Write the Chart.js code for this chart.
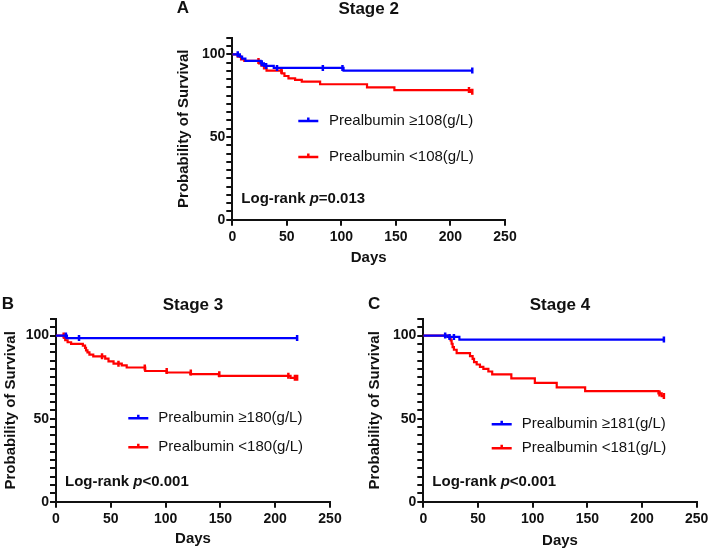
<!DOCTYPE html>
<html>
<head>
<meta charset="utf-8">
<script src="https://cdn.jsdelivr.net/npm/chart.js@4"></script>
<style>
  body { margin: 0; background: #fff; }
  #page { position: relative; width: 708px; height: 551px; overflow: hidden; }
  canvas { position: absolute; }
</style>
</head>
<body>
<div id="page">
  <canvas id="stage2" width="360" height="275" style="left:160px;top:0px"></canvas>
  <canvas id="stage3" width="350" height="266" style="left:0px;top:285px"></canvas>
  <canvas id="stage4" width="353" height="266" style="left:355px;top:285px"></canvas>
</div>
<script>
// Stage 2
const s2HighDays = [0, 7, 9, 12, 26, 29, 38, 102, 220];
const s2HighSurv = [100, 98.6, 97.4, 96.1, 94.6, 93.0, 91.8, 90.2, 90.2];
const s2HighCensorDays = [5, 27, 31, 41, 83, 101, 220];
const s2HighCensorSurv = [100, 94.6, 93.0, 91.8, 91.8, 91.8, 90.2];
const s2LowDays = [0, 5, 8, 11, 24.5, 26.7, 29, 31.4, 45.4, 47.8, 51.5, 57.6, 63.7, 80.5, 123.5, 148.6, 218, 220];
const s2LowSurv = [100, 98.6, 97, 96, 94.5, 93.1, 91.5, 90.1, 88.5, 86.9, 85.5, 84.5, 83.5, 81.9, 80, 78.4, 77.3, 77.3];
const s2LowCensorDays = [24, 45, 217, 220];
const s2LowCensorSurv = [96, 90.1, 78.4, 77.3];

// Stage 3
const s3HighDays = [0, 10, 220];
const s3HighSurv = [100, 98.5, 98.5];
const s3HighCensorDays = [9, 21, 220];
const s3HighCensorSurv = [100, 98.5, 98.5];
const s3LowDays = [0, 7.5, 8.4, 10.6, 13.8, 24.5, 26.5, 27.4, 28.7, 30.5, 34, 44.9, 47.9, 52.5, 60, 64.5, 81.4, 101, 122.6, 148.6, 214, 220];
const s3LowSurv = [100, 98.6, 97.2, 96, 95, 94, 92.6, 91.1, 89.9, 88.5, 87.5, 86.1, 84.5, 83.1, 82.1, 80.8, 78.7, 77.8, 76.8, 75.8, 74.6, 74.6];
const s3LowCensorDays = [7, 42, 57, 81, 101, 123, 149, 212, 218, 220];
const s3LowCensorSurv = [100, 87.5, 83.1, 80.8, 78.7, 77.8, 76.8, 75.8, 74.6, 74.6];

// Stage 4
const s4HighDays = [0, 22, 33, 220];
const s4HighSurv = [100, 99.2, 97.6, 97.6];
const s4HighCensorDays = [20, 24, 28, 220];
const s4HighCensorSurv = [100, 99.2, 99.2, 97.6];
const s4LowDays = [0, 23.8, 25, 25.9, 26.8, 28, 30.5, 42.7, 45.1, 46.4, 48.8, 51.8, 54.9, 59.5, 63, 80.5, 102, 122, 148, 215, 218, 220];
const s4LowSurv = [100, 98.8, 97.1, 95.1, 93.1, 91.5, 89.4, 87.7, 86, 84, 82.6, 81.2, 80, 78.4, 76.6, 74.3, 71.5, 68.8, 66.6, 65.2, 63.6, 63.6];
const s4LowCensorDays = [216, 220];
const s4LowCensorSurv = [65.2, 63.6];

const xTicks = [0, 50, 100, 150, 200, 250];
const yTickLabels = [0, 50, 100];

const BLUE = "rgb(0,0,255)";
const RED = "rgb(255,0,0)";
const FONT = '"Liberation Sans", Arial, sans-serif';

Chart.defaults.font.family = FONT;
Chart.defaults.color = "#111";

const toPoints = (xs, ys) => xs.map((x, i) => ({ x: x, y: ys[i] }));

// letters, titles, legend and the log-rank note
const panelText = {
  id: "panelText",
  afterDraw(chart, args, opts) {
    const { ctx, chartArea } = chart;
    ctx.save();
    ctx.fillStyle = "#111";
    ctx.textBaseline = "middle";

    ctx.font = "bold 17px " + FONT;
    ctx.textAlign = "left";
    ctx.fillText(opts.letter, opts.letterX, opts.titleY - 1);
    ctx.textAlign = "center";
    ctx.fillText(opts.title, (chartArea.left + chartArea.right) / 2, opts.titleY);

    // legend (curve datasets only)
    ctx.textAlign = "left";
    ctx.font = "15px " + FONT;
    let row = 0;
    chart.data.datasets.forEach((ds) => {
      if (!ds.isCurve) return;
      const y = opts.legendY[row++];
      const x1 = chartArea.left + opts.legendX;
      const x2 = x1 + 20;
      ctx.strokeStyle = ds.borderColor;
      ctx.lineWidth = 2.5;
      ctx.beginPath();
      ctx.moveTo(x1, y);
      ctx.lineTo(x2, y);
      ctx.moveTo((x1 + x2) / 2, y - 3.5);
      ctx.lineTo((x1 + x2) / 2, y + 1);
      ctx.stroke();
      ctx.fillText(ds.label, x1 + opts.legendTextGap, y);
    });

    // Log-rank p text
    let x = chartArea.left + 9;
    const y = opts.logY;
    ctx.font = "bold 15px " + FONT;
    ctx.fillText("Log-rank ", x, y);
    x += ctx.measureText("Log-rank ").width;
    ctx.font = "italic bold 15px " + FONT;
    ctx.fillText("p", x, y);
    x += ctx.measureText("p").width;
    ctx.font = "bold 15px " + FONT;
    ctx.fillText(opts.pText, x, y);
    ctx.restore();
  }
};

function makePanel(id, p) {
  const curve = (label, xs, ys, color) => ({
    label: label,
    isCurve: true,
    data: toPoints(xs, ys),
    borderColor: color,
    backgroundColor: color,
    borderWidth: 2.2,
    stepped: true,
    pointRadius: 0,
    fill: false
  });
  const censor = (xs, ys, color) => ({
    label: "",
    data: toPoints(xs, ys),
    showLine: false,
    borderColor: color,
    backgroundColor: color,
    pointStyle: "line",
    rotation: 90,
    pointRadius: 3,
    pointBorderWidth: 2.5
  });

  return new Chart(document.getElementById(id), {
    type: "line",
    data: {
      datasets: [
        curve(p.highLabel, p.high[0], p.high[1], BLUE),
        censor(p.highCensor[0], p.highCensor[1], BLUE),
        curve(p.lowLabel, p.low[0], p.low[1], RED),
        censor(p.lowCensor[0], p.lowCensor[1], RED)
      ]
    },
    options: {
      responsive: false,
      animation: false,
      events: [],
      layout: { padding: { top: p.top, right: p.right, left: 0, bottom: 0 } },
      plugins: {
        legend: { display: false },
        tooltip: { enabled: false },
        panelText: p.text
      },
      scales: {
        x: {
          type: "linear",
          min: 0,
          max: 250,
          afterBuildTicks: (axis) => { axis.ticks = xTicks.map((v) => ({ value: v })); },
          afterFit: (axis) => { axis.height = p.xHeight; axis.paddingLeft = 0; axis.paddingRight = 0; },
          ticks: { font: { size: 14, weight: "bold" }, color: "#111", padding: 3, maxRotation: 0, autoSkip: false },
          grid: { drawOnChartArea: false, drawTicks: true, tickLength: 6, color: "#111", lineWidth: 2 },
          border: { display: true, color: "#111", width: 2 },
          title: { display: true, text: "Days", font: { size: 15, weight: "bold" }, color: "#111", padding: { top: 0, bottom: p.xTitlePad } }
        },
        y: {
          min: 0,
          max: 110,
          ticks: {
            stepSize: 5,
            autoSkip: false,
            font: { size: 14, weight: "bold" },
            color: "#111",
            padding: 1,
            callback: (v) => (yTickLabels.includes(v) ? String(v) : "")
          },
          afterFit: (axis) => { axis.width = p.yWidth; axis.paddingTop = 0; axis.paddingBottom = 0; },
          grid: {
            drawOnChartArea: false,
            drawTicks: true,
            tickLength: 6,
            color: "#111",
            lineWidth: 2
          },
          border: { display: true, color: "#111", width: 2 },
          title: { display: true, text: "Probability of Survival", font: { size: 15, weight: "bold" }, color: "#111", padding: { top: p.yTitlePad, bottom: 0 } }
        }
      }
    },
    plugins: [panelText]
  });
}

makePanel("stage2", {
  high: [s2HighDays, s2HighSurv], highCensor: [s2HighCensorDays, s2HighCensorSurv],
  low: [s2LowDays, s2LowSurv], lowCensor: [s2LowCensorDays, s2LowCensorSurv],
  highLabel: "Prealbumin \u2265108(g/L)", lowLabel: "Prealbumin <108(g/L)",
  top: 37.8, right: 15, yWidth: 72.3, xHeight: 55.3, xTitlePad: 8, yTitlePad: 14.5,
  text: { letter: "A", letterX: 16.7, title: "Stage 2", titleY: 9, legendX: 66, legendTextGap: 30.7, legendY: [121, 157], logY: 199, pText: "=0.013" }
});

makePanel("stage3", {
  high: [s3HighDays, s3HighSurv], highCensor: [s3HighCensorDays, s3HighCensorSurv],
  low: [s3LowDays, s3LowSurv], lowCensor: [s3LowCensorDays, s3LowCensorSurv],
  highLabel: "Prealbumin \u2265180(g/L)", lowLabel: "Prealbumin <180(g/L)",
  top: 34, right: 20, yWidth: 56, xHeight: 49.3, xTitlePad: 3, yTitlePad: 2,
  text: { letter: "B", letterX: 1.7, title: "Stage 3", titleY: 20.5, legendX: 72.3, legendTextGap: 30, legendY: [133.3, 162.3], logY: 197, pText: "<0.001" }
});

makePanel("stage4", {
  high: [s4HighDays, s4HighSurv], highCensor: [s4HighCensorDays, s4HighCensorSurv],
  low: [s4LowDays, s4LowSurv], lowCensor: [s4LowCensorDays, s4LowCensorSurv],
  highLabel: "Prealbumin \u2265181(g/L)", lowLabel: "Prealbumin <181(g/L)",
  top: 34, right: 11.3, yWidth: 68.3, xHeight: 49.3, xTitlePad: 1, yTitlePad: 11,
  text: { letter: "C", letterX: 13, title: "Stage 4", titleY: 20, legendX: 68.4, legendTextGap: 30, legendY: [139.3, 163.3], logY: 197, pText: "<0.001" }
});
</script>
</body>
</html>
